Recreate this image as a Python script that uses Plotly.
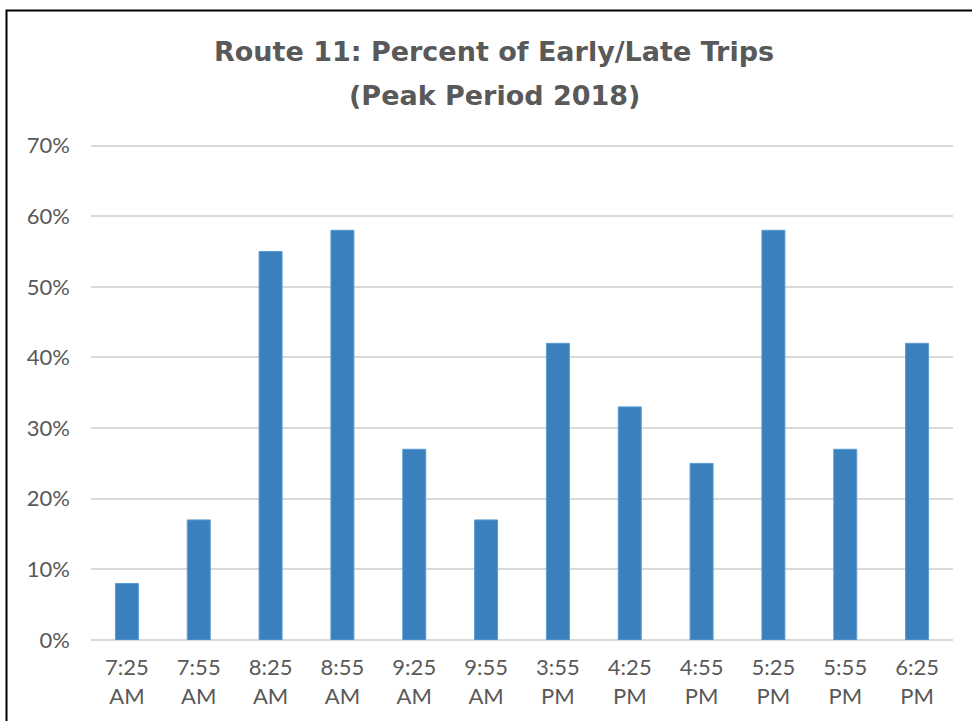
import plotly.graph_objects as go

# Scheduled trip times (two-line labels) and share of trips running early or late
trip_times = ["7:25<br>AM", "7:55<br>AM", "8:25<br>AM", "8:55<br>AM", "9:25<br>AM", "9:55<br>AM",
              "3:55<br>PM", "4:25<br>PM", "4:55<br>PM", "5:25<br>PM", "5:55<br>PM", "6:25<br>PM"]
pct_early_late = [0.08, 0.17, 0.55, 0.58, 0.27, 0.17, 0.42, 0.33, 0.25, 0.58, 0.27, 0.42]

y_ticks = [0, 0.1, 0.2, 0.3, 0.4, 0.5, 0.6, 0.7]
y_tick_text = ["0%", "10%", "20%", "30%", "40%", "50%", "60%", "70%"]

title_lines = ["Route 11: Percent of Early/Late Trips", "(Peak Period 2018)"]

TEXT = "#595959"
GRID = "#d9d9d9"
FONT = "Lato"
TITLE_FONT = "DejaVu Sans"

W, H = 972, 721
Y_MAX = 0.705          # a little headroom so the 70% gridline is drawn
L, R, B = 91, 19, 79
T = H - B - 496 * Y_MAX / 0.7

fig = go.Figure(go.Bar(
    x=trip_times,
    y=pct_early_late,
    marker=dict(color="#3a80bc", line=dict(color="#5b9bd5", width=1)),
    hoverinfo="x+y",
))

fig.update_layout(
    width=W, height=H,
    margin=dict(l=L, r=R, t=T, b=B, pad=0),
    paper_bgcolor="white",
    plot_bgcolor="white",
    showlegend=False,
    bargap=0.68,
    font=dict(family=FONT, color=TEXT),
    xaxis=dict(
        tickfont=dict(size=22, color=TEXT, family=FONT),
        showgrid=False, showline=False, ticks="",
        ticklabelstandoff=12,
    ),
    yaxis=dict(
        range=[0, Y_MAX],
        tickvals=y_ticks, ticktext=y_tick_text,
        tickfont=dict(size=22, color=TEXT, family=FONT),
        showgrid=True, gridcolor=GRID, gridwidth=2,
        zeroline=True, zerolinecolor=GRID, zerolinewidth=2,
        showline=False, ticks="", ticklabelstandoff=20,
    ),
)

# Two-line chart title with wide line spacing
plot_h = H - T - B
plot_w = W - L - R
for text, ypix in zip(title_lines, [52, 96]):
    fig.add_annotation(
        text=f"<b>{text}</b>",
        xref="paper", yref="paper",
        x=(494 - L) / plot_w, y=(H - B - ypix) / plot_h,
        xanchor="center", yanchor="middle",
        showarrow=False,
        font=dict(size=27, color=TEXT, family=TITLE_FONT),
    )

# Chart frame (top and left edges visible)
fig.add_shape(
    type="rect", xref="paper", yref="paper",
    x0=(6.5 - L) / plot_w, x1=(W + 20 - L) / plot_w,
    y0=-(B + 20) / plot_h, y1=(H - B - 10.5) / plot_h,
    line=dict(color="black", width=2), fillcolor="rgba(0,0,0,0)",
    layer="above",
)

fig.write_html("out.html")
